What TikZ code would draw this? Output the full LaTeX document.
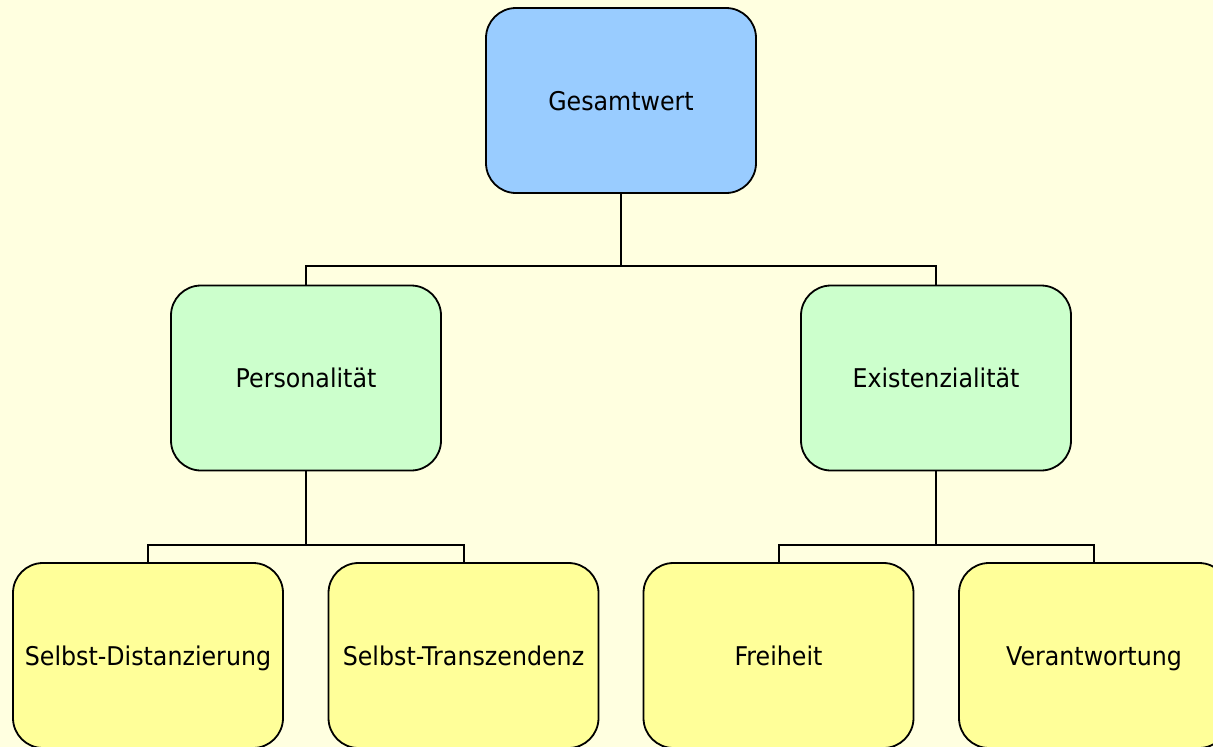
\documentclass[tikz,border=0pt]{standalone}
\usepackage{fontspec}
\setmainfont[FakeStretch=0.92]{DejaVu Sans}
\definecolor{bgc}{HTML}{FFFFE0}
\definecolor{topc}{HTML}{99CCFF}
\definecolor{midc}{HTML}{CCFFCC}
\definecolor{lowc}{HTML}{FFFF99}
\begin{document}
\begin{tikzpicture}[x=1pt,y=-1pt,
  box/.style={draw=black,line width=1.8pt,rounded corners=30pt,minimum width=270pt,minimum height=185pt,inner sep=0pt,text height=22pt,text depth=3pt,font=\fontsize{25.8}{30}\selectfont},
  conn/.style={draw=black,line width=2pt}]
\fill[bgc] (0,0) rectangle (1213,747);
\useasboundingbox (0,0) rectangle (1213,747);
\draw[conn] (621,100) -- (621,266) -| (306,378);
\draw[conn] (621,266) -| (936,378);
\node[box,fill=topc] (g) at (621,100.5) {Gesamtwert};
\node[box,fill=midc] (p) at (306,378) {Personalität};
\node[box,fill=midc] (e) at (936,378) {Existenzialität};
\node[box,fill=lowc] (sd) at (148,655.5) {Selbst-Distanzierung};
\node[box,fill=lowc] (st) at (463.5,655.5) {Selbst-Transzendenz};
\node[box,fill=lowc] (fr) at (778.5,655.5) {Freiheit};
\node[box,fill=lowc] (ve) at (1094,655.5) {Verantwortung};
\coordinate (pj) at (306,545);
\coordinate (ej) at (936,545);
\draw[conn] (p.south) -- (pj) -| (sd.north);
\draw[conn] (pj) -| (st.north);
\draw[conn] (e.south) -- (ej) -| (fr.north);
\draw[conn] (ej) -| (ve.north);
\end{tikzpicture}
\end{document}
